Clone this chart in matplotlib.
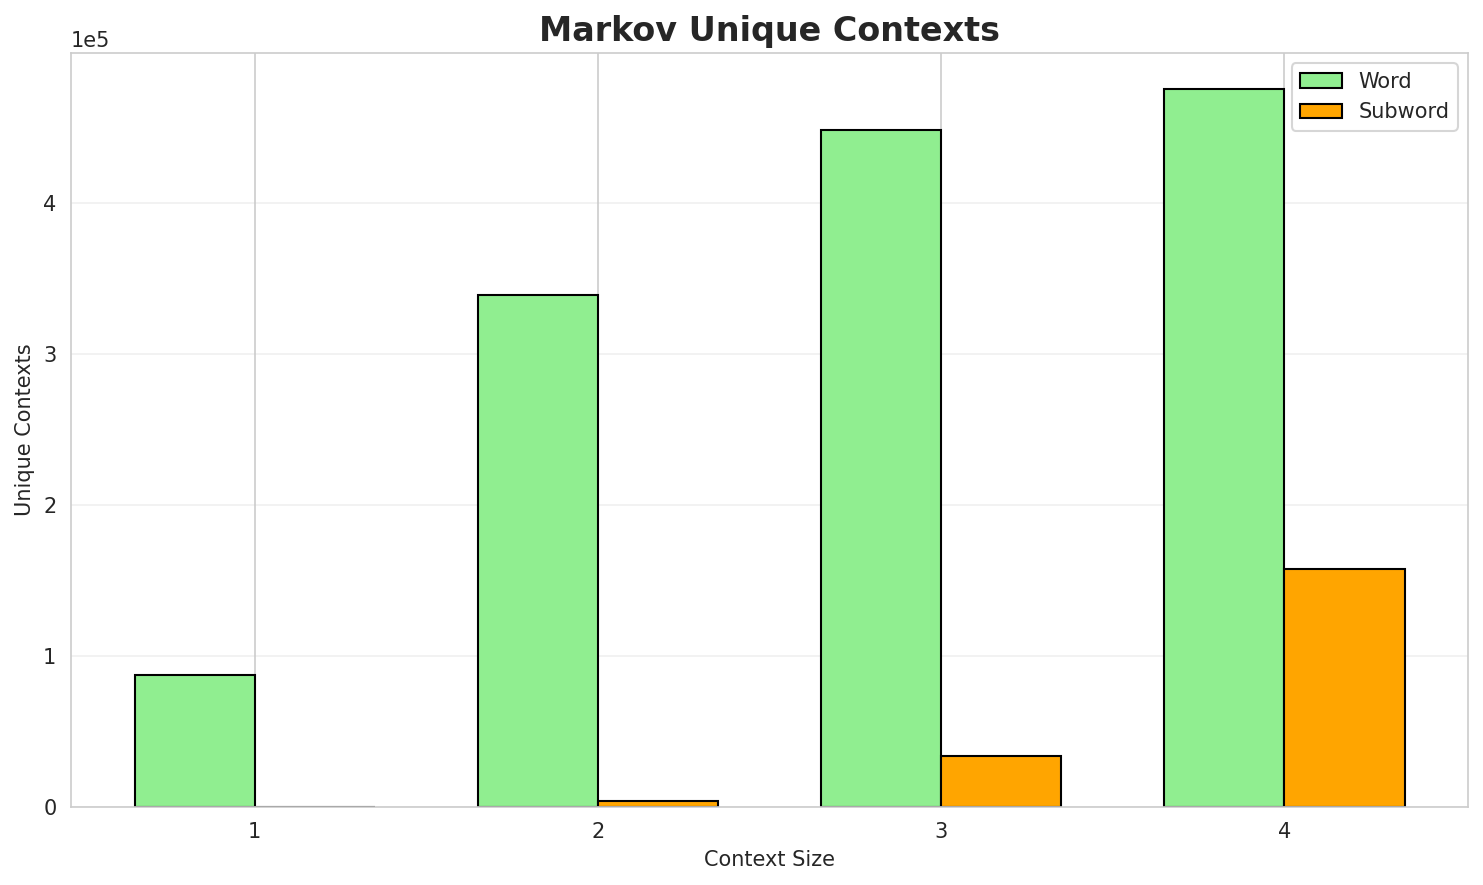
import numpy as np
import matplotlib
matplotlib.use("Agg")
import matplotlib.pyplot as plt
import seaborn as sns

sns.set_style("whitegrid")
plt.rcParams['font.family'] = ['DejaVu Sans']

context_sizes = [1, 2, 3, 4]
word_contexts = [87400, 339000, 448000, 475500]
subword_contexts = [60, 4000, 33800, 157500]

x = np.arange(len(context_sizes))
width = 0.35

fig, ax = plt.subplots(figsize=(1483 / 150, 885 / 150), dpi=150)
ax.bar(x - width / 2, word_contexts, width, label='Word', color='lightgreen', edgecolor='black')
ax.bar(x + width / 2, subword_contexts, width, label='Subword', color='orange', edgecolor='black')

ax.set_xticks(x)
ax.set_xticklabels(context_sizes)
ax.set_xlabel('Context Size')
ax.set_ylabel('Unique Contexts')
ax.set_title('Markov Unique Contexts', fontsize=16, fontweight='bold')
ax.ticklabel_format(axis='y', style='sci', scilimits=(0, 0))
ax.grid(axis='y', alpha=0.3)
ax.legend(loc='upper right')

fig.subplots_adjust(left=71 / 1483, right=1468 / 1483, top=1 - 53 / 885, bottom=1 - 807 / 885)
plt.savefig('out.png', dpi=150)
